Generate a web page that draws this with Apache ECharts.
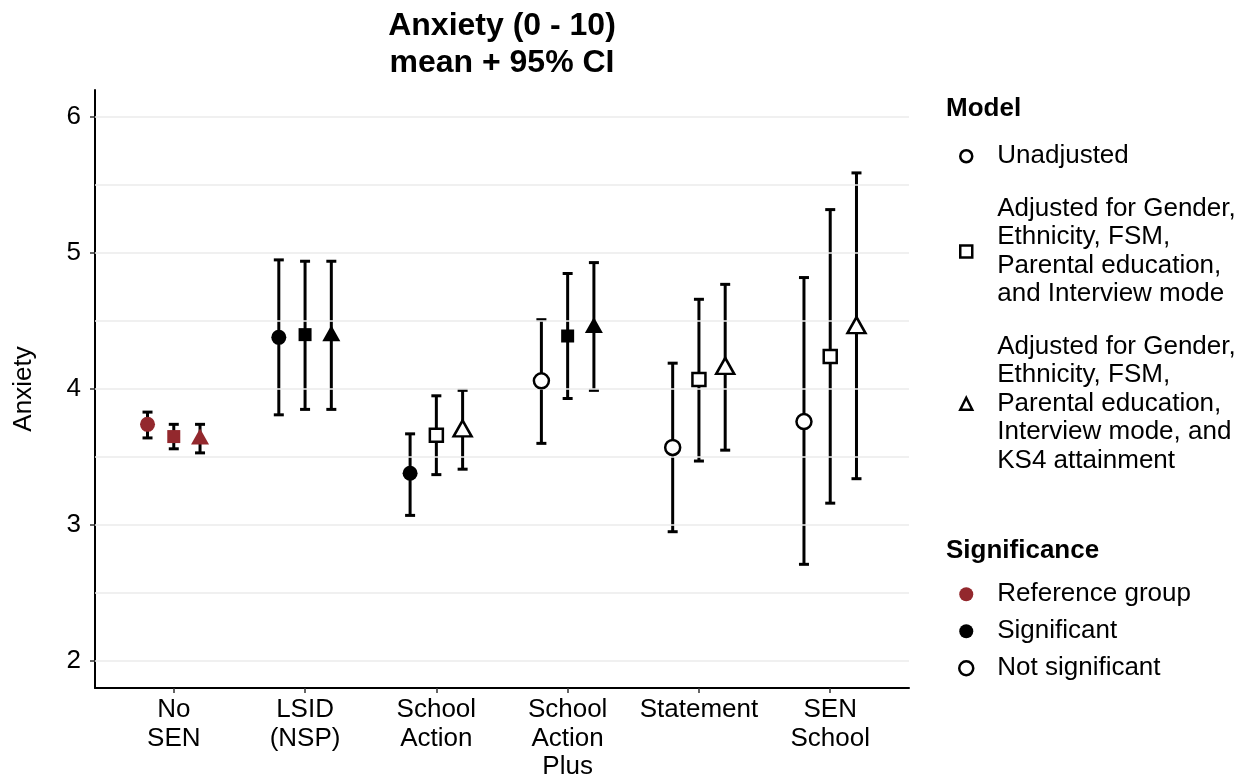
<!DOCTYPE html>
<html>
<head>
<meta charset="utf-8">
<script src="https://cdn.jsdelivr.net/npm/echarts@6/dist/echarts.min.js"></script>
<style>
html,body{margin:0;padding:0;background:#fff;}
#chart{width:1240px;height:776px;}
</style>
</head>
<body>
<div id="chart"></div>
<script>
// ---------- data ----------
const categories = ['No\nSEN', 'LSID\n(NSP)', 'School\nAction', 'School\nAction\nPlus', 'Statement', 'SEN\nSchool'];
const yTicks = [2, 3, 4, 5, 6];
const yGrid = [2, 2.5, 3, 3.5, 4, 4.5, 5, 5.5, 6];

const modelNames = [
  'Unadjusted',
  'Adjusted for Gender,\nEthnicity, FSM,\nParental education,\nand Interview mode',
  'Adjusted for Gender,\nEthnicity, FSM,\nParental education,\nInterview mode, and\nKS4 attainment'
];
const significanceNames = ['Reference group', 'Significant', 'Not significant'];

const unadjustedMean  = [3.74, 4.38, 3.38, 4.06, 3.57, 3.76];
const unadjustedLower = [3.64, 3.81, 3.07, 3.60, 2.95, 2.71];
const unadjustedUpper = [3.83, 4.95, 3.67, 4.51, 4.19, 4.82];
const unadjustedSig   = ['ref', 'sig', 'sig', 'ns', 'ns', 'ns'];

const adjustedMean  = [3.65, 4.40, 3.66, 4.39, 4.07, 4.24];
const adjustedLower = [3.56, 3.85, 3.37, 3.93, 3.47, 3.16];
const adjustedUpper = [3.74, 4.94, 3.95, 4.85, 4.66, 5.32];
const adjustedSig   = ['ref', 'sig', 'ns', 'sig', 'ns', 'ns'];

const adjustedKs4Mean  = [3.65, 4.41, 3.71, 4.47, 4.17, 4.47];
const adjustedKs4Lower = [3.53, 3.85, 3.41, 3.99, 3.55, 3.34];
const adjustedKs4Upper = [3.74, 4.94, 3.99, 4.93, 4.77, 5.59];
const adjustedKs4Sig   = ['ref', 'sig', 'ns', 'sig', 'ns', 'ns'];

// ---------- styling ----------
const FONT = '"Liberation Sans", Arial, sans-serif';
const RED = '#93282D';
const models = [
  {name: modelNames[0], mean: unadjustedMean, lo: unadjustedLower, hi: unadjustedUpper, sig: unadjustedSig, symbol: 'circle', offset: -0.2},
  {name: modelNames[1], mean: adjustedMean, lo: adjustedLower, hi: adjustedUpper, sig: adjustedSig, symbol: 'rect', offset: 0},
  {name: modelNames[2], mean: adjustedKs4Mean, lo: adjustedKs4Lower, hi: adjustedKs4Upper, sig: adjustedKs4Sig, symbol: 'triangle', offset: 0.2}
];
const symbolSizes = {circle: 15, rect: 13, triangle: [18, 16]};

function pointStyle(sig) {
  if (sig === 'ref') return {color: RED, borderWidth: 0, opacity: 1};
  if (sig === 'sig') return {color: '#000', borderWidth: 0, opacity: 1};
  return {color: '#fff', borderColor: '#000', borderWidth: 2.5, opacity: 1};
}

function renderErrorBar(params, api) {
  const x = api.value(0);
  const pLo = api.coord([x, api.value(1)]);
  const pHi = api.coord([x, api.value(2)]);
  const half = 5;
  const style = {stroke: '#000', lineWidth: 3};
  return {
    type: 'group',
    children: [
      {type: 'line', shape: {x1: pLo[0], y1: pLo[1], x2: pHi[0], y2: pHi[1]}, style: style},
      {type: 'line', shape: {x1: pHi[0] - half, y1: pHi[1], x2: pHi[0] + half, y2: pHi[1]}, style: style},
      {type: 'line', shape: {x1: pLo[0] - half, y1: pLo[1], x2: pLo[0] + half, y2: pLo[1]}, style: style}
    ]
  };
}

const series = [];
// gridlines
series.push({
  type: 'line', data: [], silent: true,
  markLine: {
    silent: true, symbol: ['none', 'none'], label: {show: false},
    lineStyle: {color: '#ebebeb', width: 1.6, type: 'solid'},
    data: yGrid.map(v => ({yAxis: v}))
  }
});
models.forEach(m => {
  series.push({
    type: 'custom', name: m.name + ' CI', renderItem: renderErrorBar,
    encode: {x: 0, y: [1, 2]}, z: 3, silent: true,
    data: categories.map((c, i) => [i + m.offset, m.lo[i], m.hi[i]])
  });
});
models.forEach(m => {
  series.push({
    type: 'scatter', name: m.name, symbol: m.symbol, symbolSize: symbolSizes[m.symbol], z: 5,
    itemStyle: {opacity: 1}, emphasis: {disabled: true},
    data: categories.map((c, i) => ({value: [i + m.offset, m.mean[i]], itemStyle: pointStyle(m.sig[i])}))
  });
});
significanceNames.forEach(n => series.push({type: 'scatter', name: n, data: [], itemStyle: {opacity: 1}}));

const legendText = {fontFamily: FONT, fontSize: 26, color: '#000', lineHeight: 28.5, padding: [0, 0, 0, 20]};
const openIcon = {color: '#fff', borderColor: '#000', borderWidth: 2.5, opacity: 1};
const option = {
  animation: false,
  backgroundColor: '#fff',
  title: [
    {text: 'Anxiety (0 - 10)\nmean + 95% CI', left: 502, top: 8, padding: 0, textAlign: 'center',
     textStyle: {fontFamily: FONT, fontSize: 32, fontWeight: 'bold', color: '#000', lineHeight: 37}},
    {text: 'Model', left: 946, top: 96, padding: 0, textStyle: {fontFamily: FONT, fontSize: 26, fontWeight: 'bold', color: '#000', lineHeight: 26}},
    {text: 'Significance', left: 946, top: 538, padding: 0, textStyle: {fontFamily: FONT, fontSize: 26, fontWeight: 'bold', color: '#000', lineHeight: 26}}
  ],
  legend: [
    {orient: 'vertical', left: 959, top: 142, padding: 0, itemGap: 24, itemWidth: 12, itemHeight: 12,
     selectedMode: false, textStyle: legendText,
     data: [
       {name: modelNames[0], icon: 'circle', itemStyle: openIcon},
       {name: modelNames[1], icon: 'rect', itemStyle: openIcon},
       {name: modelNames[2], icon: 'triangle', itemStyle: openIcon}
     ]},
    {orient: 'vertical', left: 958, top: 580, padding: 0, itemGap: 8.5, itemWidth: 14, itemHeight: 14,
     selectedMode: false, textStyle: Object.assign({}, legendText, {padding: [0, 0, 0, 19]}),
     data: [
       {name: significanceNames[0], icon: 'circle', itemStyle: {color: RED, borderWidth: 0, opacity: 1}},
       {name: significanceNames[1], icon: 'circle', itemStyle: {color: '#000', borderWidth: 0, opacity: 1}},
       {name: significanceNames[2], icon: 'circle', itemStyle: openIcon}
     ]}
  ],
  grid: {left: 95, right: 331, top: 90, bottom: 88, outerBoundsMode: 'none', containLabel: false},
  xAxis: {
    type: 'value', min: -0.6, max: 5.6,
    axisLine: {show: true, onZero: false, lineStyle: {color: '#000', width: 2}},
    axisTick: {show: true, customValues: categories.map((c, i) => i), length: 5, lineStyle: {color: '#333', width: 1.5}},
    axisLabel: {show: true, customValues: categories.map((c, i) => i), formatter: v => categories[Math.round(v)],
      fontFamily: FONT, fontSize: 26, color: '#000', lineHeight: 28.5, margin: 8},
    splitLine: {show: false}
  },
  yAxis: {
    type: 'value', min: 1.8, max: 6.2,
    name: 'Anxiety', nameLocation: 'middle', nameRotate: 90, nameGap: 58,
    nameTextStyle: {fontFamily: FONT, fontSize: 26, color: '#000'},
    axisLine: {show: true, onZero: false, lineStyle: {color: '#000', width: 2}},
    axisTick: {show: true, customValues: yTicks, length: 5, lineStyle: {color: '#333', width: 1.5}},
    axisLabel: {show: true, customValues: yTicks, fontFamily: FONT, fontSize: 26, color: '#000', margin: 14},
    splitLine: {show: false}
  },
  series: series
};

const chart = echarts.init(document.getElementById('chart'), null, {renderer: 'canvas'});
chart.setOption(option);
</script>
</body>
</html>
